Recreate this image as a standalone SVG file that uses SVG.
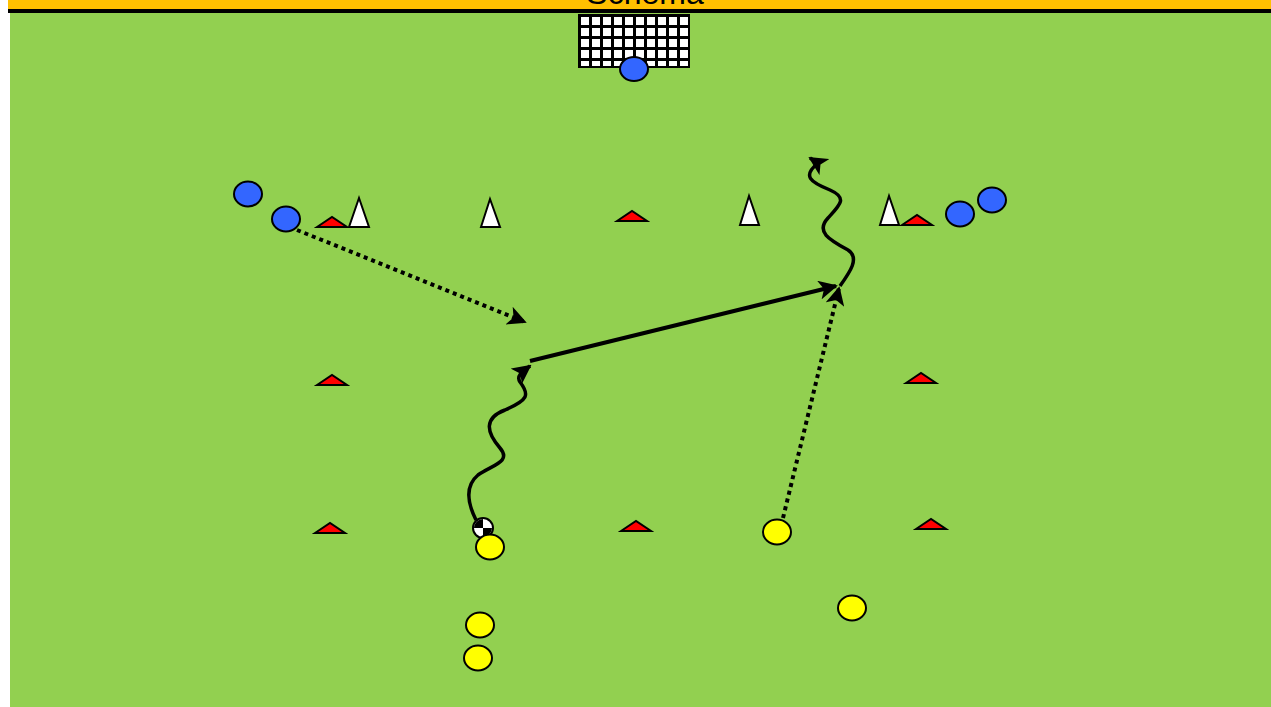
<svg xmlns="http://www.w3.org/2000/svg" width="1271" height="707" viewBox="0 0 1271 707">
<defs>
<style>
.blue{fill:#3366ff;stroke:#000;stroke-width:2}
.yel{fill:#ffff00;stroke:#000;stroke-width:2}
.red{fill:#ff0000;stroke:#000;stroke-width:2;stroke-linejoin:miter}
.white{fill:#fff;stroke:#000;stroke-width:2}
.solid{fill:none;stroke:#000;stroke-width:4}
.dot{fill:none;stroke:#000;stroke-width:4;stroke-dasharray:4 4}
.wave{fill:none;stroke:#000;stroke-width:3.5}
</style>
<marker id="ah" viewBox="0 0 10 10" refX="9" refY="5" markerWidth="19" markerHeight="19" markerUnits="userSpaceOnUse" orient="auto">
<path d="M0,0 L10,5 L0,10 L2.5,5 Z" fill="#000"/>
</marker>
<pattern id="net" x="579" y="15" width="11" height="11" patternUnits="userSpaceOnUse">
<rect width="11" height="11" fill="#000"/>
<rect x="2" y="2" width="8" height="8" fill="#fff"/>
</pattern>
</defs>
<rect x="0" y="0" width="1271" height="707" fill="#fff"/>
<rect x="10" y="12" width="1261" height="695" fill="#92d050"/>
<rect x="8" y="0" width="1263" height="10" fill="#ffc000"/>
<rect x="8" y="9" width="1263" height="4" fill="#000"/>
<text x="645" y="4" font-family="Liberation Sans, Arial, sans-serif" font-size="32" text-anchor="middle" fill="#000">Schema</text>
<g id="goal">
<rect x="579" y="15" width="110" height="52" fill="url(#net)" stroke="#000" stroke-width="2"/>
</g>
<g id="connectors">
<path class="dot" d="M297,230 L525,322" marker-end="url(#ah)"/>
<path class="solid" d="M530,361 L836,286" marker-end="url(#ah)"/>
<path class="dot" d="M783,518 L839,288" marker-end="url(#ah)"/>
<path class="wave" d="M476,520 C466,500 466,485 478,475 C492,465 512,462 500,448 C486,432 484,418 505,410 C528,400 530,395 520,382 C516,376 522,372 530,366" marker-end="url(#ah)"/>
<path class="wave" d="M840,286 C850,272 860,258 848,250 C830,240 815,232 828,218 C840,205 848,198 830,190 C810,182 802,176 818,163 L810,158" marker-end="url(#ah)"/>
</g>
<g id="keeper"><ellipse class="blue" cx="634" cy="69" rx="14" ry="12"/></g>
<g id="blue1"><ellipse class="blue" cx="248" cy="194" rx="14" ry="12.5"/></g>
<g id="blue2"><ellipse class="blue" cx="286" cy="219" rx="14" ry="12.5"/></g>
<g id="blue3"><ellipse class="blue" cx="960" cy="214" rx="14" ry="12.5"/></g>
<g id="blue4"><ellipse class="blue" cx="992" cy="200" rx="14" ry="12.5"/></g>
<g id="ball">
<circle cx="483" cy="528" r="10" fill="#fff" stroke="#000" stroke-width="2"/>
<path d="M483,528 L483,519 A9,9 0 0,0 474,528 Z" fill="#000"/>
<path d="M483,528 L492,528 A9,9 0 0,1 483,537 Z" fill="#000"/>
</g>
<g id="yel1"><ellipse class="yel" cx="490" cy="547" rx="14" ry="12.5"/></g>
<g id="yel2"><ellipse class="yel" cx="777" cy="532" rx="14" ry="12.5"/></g>
<g id="yel3"><ellipse class="yel" cx="852" cy="608" rx="14" ry="12.5"/></g>
<g id="yel4"><ellipse class="yel" cx="480" cy="625" rx="14" ry="12.5"/></g>
<g id="yel5"><ellipse class="yel" cx="478" cy="658" rx="14" ry="12.5"/></g>
<g id="cone-r1"><polygon class="red" points="317,227 332,217 347,227"/></g>
<g id="cone-r2"><polygon class="red" points="617,221 632,211 647,221"/></g>
<g id="cone-r3"><polygon class="red" points="902,225 917,215 932,225"/></g>
<g id="cone-r4"><polygon class="red" points="317,385 332,375 347,385"/></g>
<g id="cone-r5"><polygon class="red" points="906,383 921,373 936,383"/></g>
<g id="cone-r6"><polygon class="red" points="315,533 330,523 345,533"/></g>
<g id="cone-r7"><polygon class="red" points="621,531 636,521 651,531"/></g>
<g id="cone-r8"><polygon class="red" points="916,529 931,519 946,529"/></g>
<g id="cone-w1"><polygon class="white" points="349,227 359,198 369,227"/></g>
<g id="cone-w2"><polygon class="white" points="481,227 490,199 500,227"/></g>
<g id="cone-w3"><polygon class="white" points="740,225 749,196 759,225"/></g>
<g id="cone-w4"><polygon class="white" points="880,225 889,196 899,225"/></g>
</svg>
